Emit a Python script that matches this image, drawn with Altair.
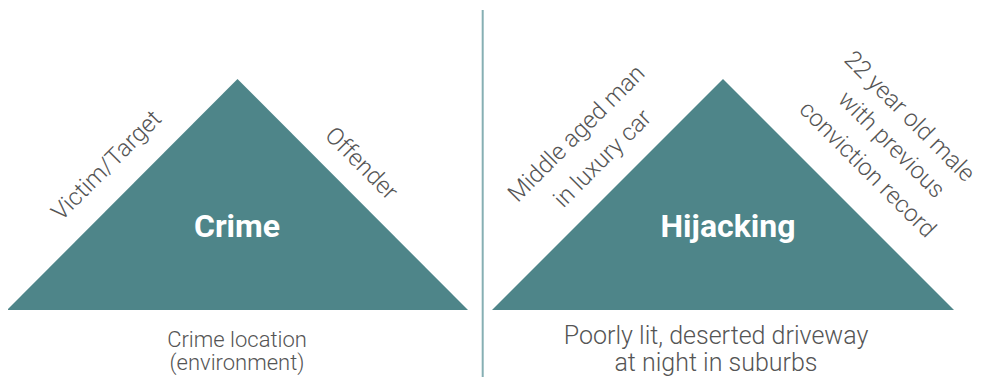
import altair as alt
import pandas as pd

# ---- content ----
titles = ["Crime", "Hijacking"]
side_labels = ["Victim/Target", "Offender",
               "Middle aged man", "in luxury car",
               "22 year old male", "with previous", "conviction record"]
base_labels_left = ["Crime location", "(environment)"]
base_labels_right = ["Poorly lit, deserted driveway", "at night in suburbs"]

# ---- geometry (pixel coordinates on the page) ----
tri_group = ["L", "L", "L", "R", "R", "R"]
tri_x = [7, 237.5, 468, 492, 723, 954]
tri_y = [310, 79, 310, 310, 79, 310]

title_x = [237, 728]
title_y = [237, 237]

side_x = [107, 361, 577, 603, 909, 891, 867]
side_y = [166, 164, 134, 159, 117, 145, 170]
side_angle = [315, 45, 315, 315, 45, 45, 45]

base_l_x = [237, 237]
base_l_y = [347, 370]
base_r_x = [716, 716]
base_r_y = [344, 371]

TEAL = "#4e8589"
GREY = "#555555"
FONT = "Roboto"

W, H = 974, 369
xs = alt.Scale(domain=[8, 8 + W], range=[0, W], nice=False, zero=False)
ys = alt.Scale(domain=[8, 8 + H], range=[0, H], nice=False, zero=False)

tri = pd.DataFrame({"g": tri_group, "x": tri_x, "y": tri_y, "b": [310] * 6})
areas = alt.Chart(tri).mark_area(color=TEAL, interpolate="linear").encode(
    x=alt.X("x:Q", scale=xs, axis=None),
    y=alt.Y("y:Q", scale=ys, axis=None),
    y2="b:Q",
    detail="g:N",
)

divider = alt.Chart(pd.DataFrame({"x": [482.7], "y": [10], "y2": [385]})).mark_rule(
    color="#86afb3", strokeWidth=2
).encode(x=alt.X("x:Q", scale=xs), y=alt.Y("y:Q", scale=ys), y2="y2:Q")

tdf = pd.DataFrame({"t": titles, "x": title_x, "y": title_y})
title_marks = alt.Chart(tdf).mark_text(
    font=FONT, fontSize=32, fontWeight="bold", color="white",
    align="center", baseline="alphabetic"
).encode(x=alt.X("x:Q", scale=xs), y=alt.Y("y:Q", scale=ys), text="t:N")

layers = [areas, divider, title_marks]

sdf = pd.DataFrame({"t": side_labels, "x": side_x, "y": side_y, "a": side_angle})
for i in range(len(sdf)):
    layers.append(
        alt.Chart(sdf.iloc[[i]]).mark_text(
            font=FONT, fontSize=24, fontWeight=300, color=GREY,
            align="center", baseline="middle", angle=int(side_angle[i])
        ).encode(x=alt.X("x:Q", scale=xs), y=alt.Y("y:Q", scale=ys), text="t:N")
    )

bl = pd.DataFrame({"t": base_labels_left, "x": base_l_x, "y": base_l_y})
layers.append(
    alt.Chart(bl).mark_text(
        font=FONT, fontSize=22, fontWeight=300, color=GREY,
        align="center", baseline="alphabetic"
    ).encode(x=alt.X("x:Q", scale=xs), y=alt.Y("y:Q", scale=ys), text="t:N")
)
br = pd.DataFrame({"t": base_labels_right, "x": base_r_x, "y": base_r_y})
layers.append(
    alt.Chart(br).mark_text(
        font=FONT, fontSize=25, fontWeight=300, color=GREY,
        align="center", baseline="alphabetic"
    ).encode(x=alt.X("x:Q", scale=xs), y=alt.Y("y:Q", scale=ys), text="t:N")
)

chart = alt.layer(*layers).properties(
    width=W, height=H, padding=0, autosize=alt.AutoSizeParams(type="none"),
    background="white"
).configure_view(stroke=None)

chart.save("out.html", embed_options={"renderer": "svg", "actions": False})
